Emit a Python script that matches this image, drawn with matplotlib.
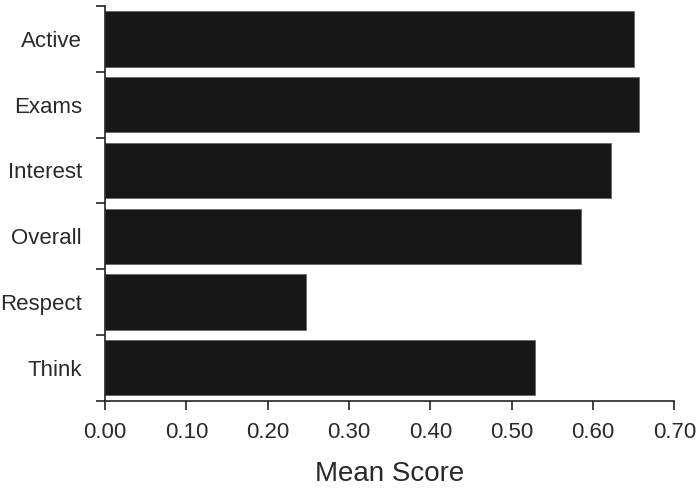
import matplotlib
matplotlib.use("Agg")
import matplotlib.pyplot as plt
import numpy as np

categories = ["Active", "Exams", "Interest", "Overall", "Respect", "Think"]
mean_scores = [0.650, 0.656, 0.622, 0.585, 0.247, 0.529]
x_ticks = [0.0, 0.1, 0.2, 0.3, 0.4, 0.5, 0.6, 0.7]
x_tick_labels = ["0.00", "0.10", "0.20", "0.30", "0.40", "0.50", "0.60", "0.70"]

plt.rcParams["font.family"] = ["Liberation Sans", "DejaVu Sans"]

fig = plt.figure(figsize=(6.99, 4.90), dpi=100)
ax = fig.add_axes([0.1502, 0.1822, 0.8145, 0.8056])

pos = np.arange(len(categories))
ax.barh(pos, mean_scores, height=0.84, color="#171717",
        edgecolor="#666666", linewidth=0.6)

ax.set_xlim(0, 0.70)
ax.set_ylim(len(categories) - 0.5, -0.5)

ax.set_xticks(x_ticks)
ax.set_xticklabels(x_tick_labels)

# ticks at the category boundaries, labels at the centres
ax.set_yticks(np.arange(len(categories) + 1) - 0.5)
ax.set_yticklabels([])
ax.set_yticks(pos, minor=True)
ax.set_yticklabels(categories, minor=True)
ax.tick_params(axis="y", which="minor", length=0, pad=16.5)
ax.tick_params(axis="y", which="major", length=6.5, width=1.2, color="#222222")
ax.tick_params(axis="x", length=6.5, width=1.2, color="#222222", pad=9)
ax.tick_params(axis="both", which="both", labelsize=16, labelcolor="#2a2a2a")

for side in ["top", "right"]:
    ax.spines[side].set_visible(False)
for side in ["left", "bottom"]:
    ax.spines[side].set_linewidth(1.2)
    ax.spines[side].set_color("#222222")

ax.set_xlabel("Mean Score", fontsize=20, color="#2a2a2a", labelpad=12.5)

fig.savefig("out.png", dpi=100)
plt.close(fig)
